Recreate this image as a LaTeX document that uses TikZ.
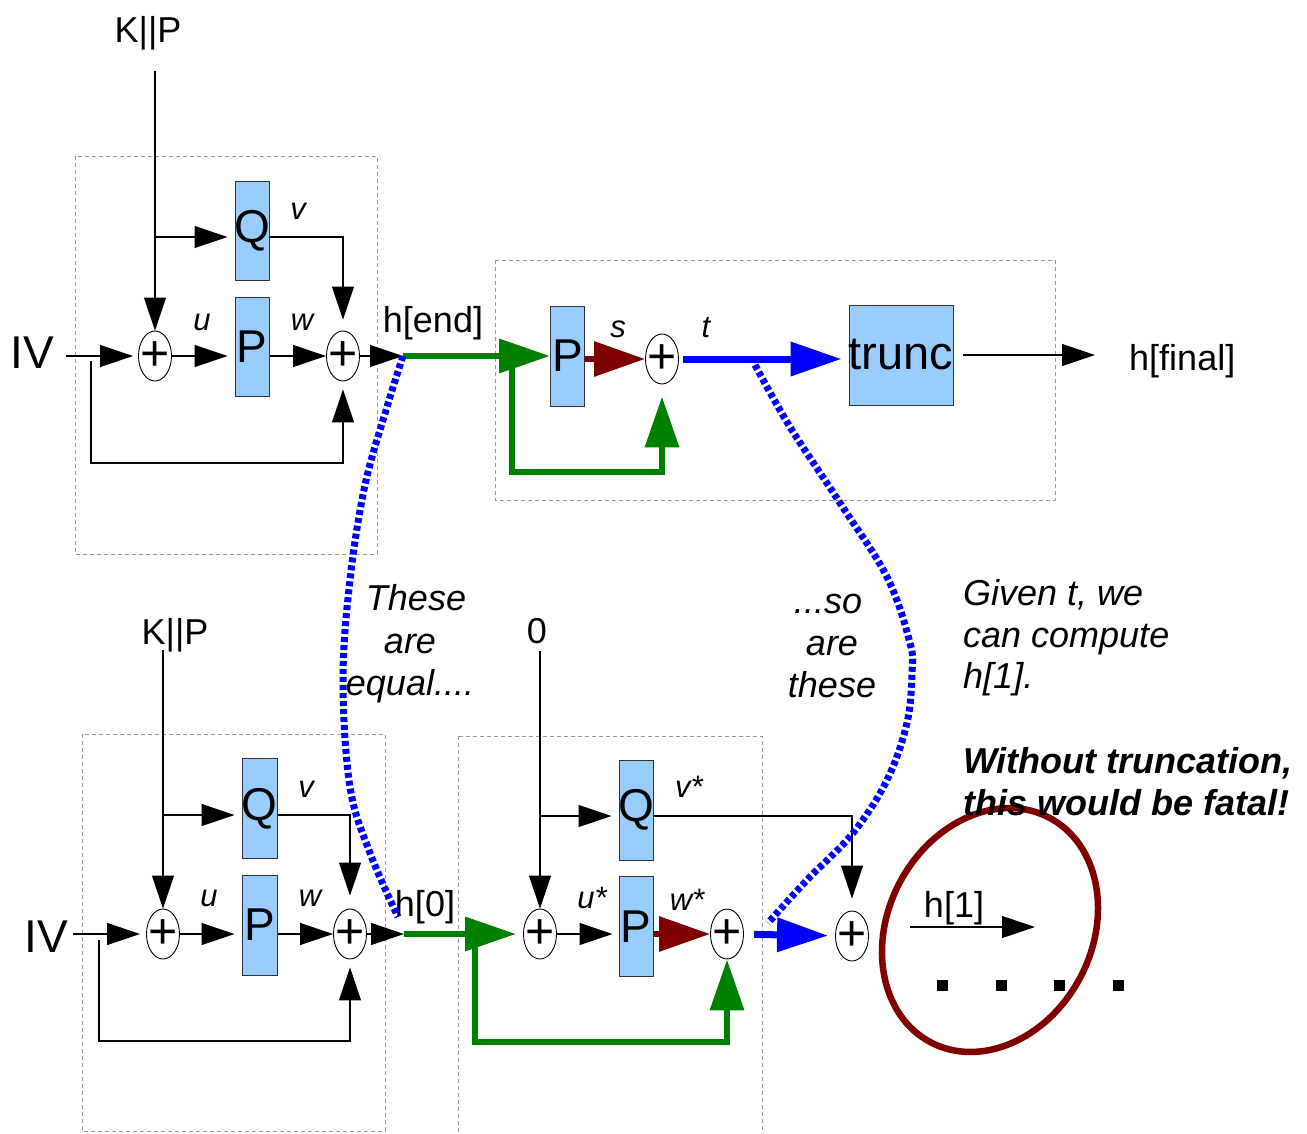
\documentclass[tikz,border=0pt]{standalone}
\usepackage{fontspec}
\setmainfont{Liberation Sans}
\usetikzlibrary{arrows.meta,shapes.geometric,calc}
\definecolor{boxblue}{HTML}{99CCFF}
\definecolor{dgreen}{HTML}{008000}
\definecolor{dred}{HTML}{800000}
\definecolor{pblue}{HTML}{0000FF}
\definecolor{lgray}{HTML}{999999}
\tikzset{
  fbox/.style={draw=black!80, line width=1pt, fill=boxblue, minimum width=34pt, minimum height=99pt, inner sep=0pt, font=\fontsize{46}{46}\selectfont},
  sumnode/.style={ellipse, draw=black, line width=0.9pt, fill=white, minimum width=33pt, minimum height=50pt, inner sep=0pt,
    label={[font=\fontsize{50}{50}\selectfont, inner sep=0pt]center:+}},
  arr/.style={draw=black, line width=1.1pt, -{Triangle[length=33pt,width=22pt]}},
  garr/.style={draw=dgreen, line width=6.5pt, -{Triangle[length=51pt,width=33pt]}},
  rarr/.style={draw=dred, line width=6pt, -{Triangle[length=51pt,width=34pt]}},
  barr/.style={draw=pblue, line width=7pt, -{Triangle[length=51pt,width=33pt]}},
  bdot/.style={draw=pblue, line width=7pt, dash pattern=on 5pt off 3pt},
  dbox/.style={draw=lgray, line width=1pt, dash pattern=on 4pt off 3pt},
  bigt/.style={font=\fontsize{46}{46}\selectfont, inner sep=0pt},
  midt/.style={font=\fontsize{36}{43}\selectfont, inner sep=0pt},
  lab/.style={font=\fontsize{31}{31}\selectfont\itshape, inner sep=0pt},
  ann/.style={font=\fontsize{36}{43}\selectfont\itshape, inner sep=0pt},
  annb/.style={font=\fontsize{36}{43}\selectfont\bfseries\itshape, inner sep=0pt},
  sq/.style={fill=black, minimum size=11pt, inner sep=0pt},
}
\begin{document}
\begin{tikzpicture}[x=1pt,y=-1pt]
\useasboundingbox (0,0) rectangle (1307,1133);
% dashed frames
\draw[dbox] (75,156) rectangle (377,554);
\draw[dbox] (495,260) rectangle (1055,500);
\draw[dbox] (82,734) rectangle (385,1131);
\draw[dbox] (458,736) rectangle (762,1145);

% ===== top-left block =====
\node[bigt, anchor=base] (iv1) at (32,368) {IV};
\node[midt, anchor=base] (kp1) at (148,42) {K||P};
\node[fbox] (q1) at (252,230.5) {\makebox[0pt]{Q}};
\node[fbox] (p1) at (252,347) {\makebox[0pt]{P}};
\node[sumnode] (s1) at (155,356) {};
\node[sumnode] (s2) at (343,356) {};
\node[lab, anchor=base] (u1) at (202,330) {u};
\node[lab, anchor=base] (w1) at (302,330) {w};
\node[lab, anchor=base] (v1) at (298,219) {v};
\node[midt, anchor=base] (hendl) at (433,332) {h[end]};
\coordinate (kp1b) at (155,71);
\coordinate (br1) at (155,237);
\coordinate (fb1) at (91,361);
\coordinate (fb1c) at (343,463);
\coordinate (hend) at (403,356);
\draw[arr] (kp1b) -- (s1);
\draw[arr, shorten >=7pt] (br1) -- (br1 -| q1.west);
\draw[arr, shorten >=11pt] (q1.east |- br1) -| (s2);
\draw[arr, shorten <=12pt, shorten >=5pt] (iv1.east |- s1) -- (s1);
\draw[arr, shorten >=7pt] (s1) -- (s1 -| p1.west);
\draw[arr] (p1.east |- s2) -- (s2);
\draw[arr, shorten >=8pt] (fb1) |- (fb1c) -- (s2);
\draw[arr] (s2) -- (hend);

% ===== top-right block =====
\node[fbox, minimum height=100pt] (p2) at (567.5,356) {\makebox[0pt]{P}};
\node[sumnode] (s3) at (662,359) {};
\node[fbox, minimum width=104pt, minimum height=100pt, font=\fontsize{47}{47}\selectfont] (tr) at (901,355) {\makebox[0pt]{trunc}};
\node[midt, anchor=base west] (hfin) at (1129,370) {h[final]};
\node[lab, anchor=base] (sl) at (618,337) {s};
\node[lab, anchor=base] (tl) at (706,337) {t};
\coordinate (g1) at (512,356);
\coordinate (g2) at (662,472);
\draw[garr] (hend) -- (hend -| p2.west);
\draw[garr, line join=miter, shorten >=12pt] (g1) |- (g2) -- (s3);
\draw[rarr] (p2.east |- s3) -- (s3);
\draw[barr, shorten <=4pt, shorten >=7pt] (s3) -- (s3 -| tr.west);
\draw[arr, shorten <=9pt, shorten >=34pt] (tr.east) -- (tr.east -| hfin.west);

% ===== bottom-left block =====
\node[bigt, anchor=base] (iv2) at (46,952) {IV};
\node[midt, anchor=base] (kp2) at (175,644) {K||P};
\node[fbox, minimum width=35pt, minimum height=100pt] (q3) at (259.5,808.5) {\makebox[0pt]{Q}};
\node[fbox, minimum width=35pt, minimum height=100pt] (p3) at (259.5,925) {\makebox[0pt]{P}};
\node[sumnode] (s4) at (163,934) {};
\node[sumnode] (s5) at (350,934) {};
\node[lab, anchor=base] (u2) at (209,906) {u};
\node[lab, anchor=base] (w2) at (310,906) {w};
\node[lab, anchor=base] (v2) at (306,797) {v};
\node[midt, anchor=base] (h0l) at (425,916) {h[0]};
\coordinate (kp2b) at (163,650);
\coordinate (br2) at (163,815);
\coordinate (fb2) at (99,940);
\coordinate (fb2c) at (350,1041);
\coordinate (h0) at (404,934);
\draw[arr] (kp2b) -- (s4);
\draw[arr, shorten >=7pt] (br2) -- (br2 -| q3.west);
\draw[arr, shorten >=13pt] (q3.east |- br2) -| (s5);
\draw[arr, shorten <=5pt, shorten >=6pt] (iv2.east |- s4) -- (s4);
\draw[arr, shorten >=7pt] (s4) -- (s4 -| p3.west);
\draw[arr] (p3.east |- s5) -- (s5);
\draw[arr, shorten >=8pt] (fb2) |- (fb2c) -- (s5);
\draw[arr] (s5) -- (h0);

% ===== bottom-middle block =====
\node[midt, anchor=base] (zero) at (537,643.5) {0};
\node[fbox, minimum height=100pt] (q4) at (636,810) {\makebox[0pt]{Q}};
\node[fbox, minimum height=100pt] (p4) at (636,926.5) {\makebox[0pt]{P}};
\node[sumnode] (s6) at (540,934) {};
\node[sumnode] (s7) at (727,934) {};
\node[sumnode] (s8) at (852,936) {};
\node[lab, anchor=base] (us) at (592,908) {u*};
\node[lab, anchor=base] (ws) at (687,910) {w*};
\node[lab, anchor=base] (vs) at (689,797) {v*};
\coordinate (zb) at (540,651);
\coordinate (br3) at (540,816);
\coordinate (g3) at (475,934);
\coordinate (g4) at (727,1042);
\draw[arr] (zb) -- (s6);
\draw[arr, shorten >=7pt] (br3) -- (br3 -| q4.west);
\draw[arr, shorten >=12pt] (q4.east |- br3) -| (s8);
\draw[garr, shorten >=7pt] (h0) -- (s6);
\draw[garr, line join=miter] (g3) |- (g4) -- (s7);
\draw[arr, shorten >=6pt] (s6) -- (s6 -| p4.west);
\draw[rarr] (p4.east |- s7) -- (s7);
\draw[barr, shorten <=10pt, shorten >=7pt] (s7) -- (s8);

% ===== h[1] and dots =====
\node[midt, anchor=base] (h1l) at (954,917) {h[1]};
\coordinate (h1s) at (910,927);
\coordinate (h1e) at (1035,927);
\draw[arr] (h1s) -- (h1e);
\node[sq] (d1) at (942,985) {};
\node[sq] (d2) at (1001,985) {};
\node[sq] (d3) at (1059,985) {};
\node[sq] (d4) at (1118,985) {};
\coordinate (ec) at (990,930);
\draw[dred, line width=6.5pt, rotate around={-28:(ec)}] (ec) ellipse [x radius=102pt, y radius=127pt];

% ===== dotted blue curves =====
\coordinate (c1e) at (398,917);
\coordinate (c2s) at (755,365);
\coordinate (c2e) at (768,923);
\draw[bdot] plot[smooth, tension=0.6] coordinates {(hend) (387,407) (365,485) (350,580) (343,680) (350,787) (370,853) (c1e)};
\draw[bdot] plot[smooth, tension=0.6] coordinates {(c2s) (790,427) (840,503) (887,577) (910,643) (912,673) (907,723) (887,780) (853,833) (807,880) (c2e)};

% ===== annotations =====
\node[ann, anchor=base] (eq1) at (416,610) {These};
\node[ann, anchor=base] (eq2) at (410,653) {are};
\node[ann, anchor=base] (eq3) at (410,695) {equal....};
\node[ann, anchor=base] (so1) at (828,613) {...so};
\node[ann, anchor=base] (so2) at (832,655) {are};
\node[ann, anchor=base] (so3) at (832,697) {these};
\node[ann, anchor=base west] (gv1) at (963,605) {Given t, we};
\node[ann, anchor=base west] (gv2) at (963,647) {can compute};
\node[ann, anchor=base west] (gv3) at (963,688) {h[1].};
\node[annb, anchor=base west] (wt1) at (963,773) {Without truncation,};
\node[annb, anchor=base west] (wt2) at (963,815) {this would be fatal!};
\end{tikzpicture}
\end{document}
